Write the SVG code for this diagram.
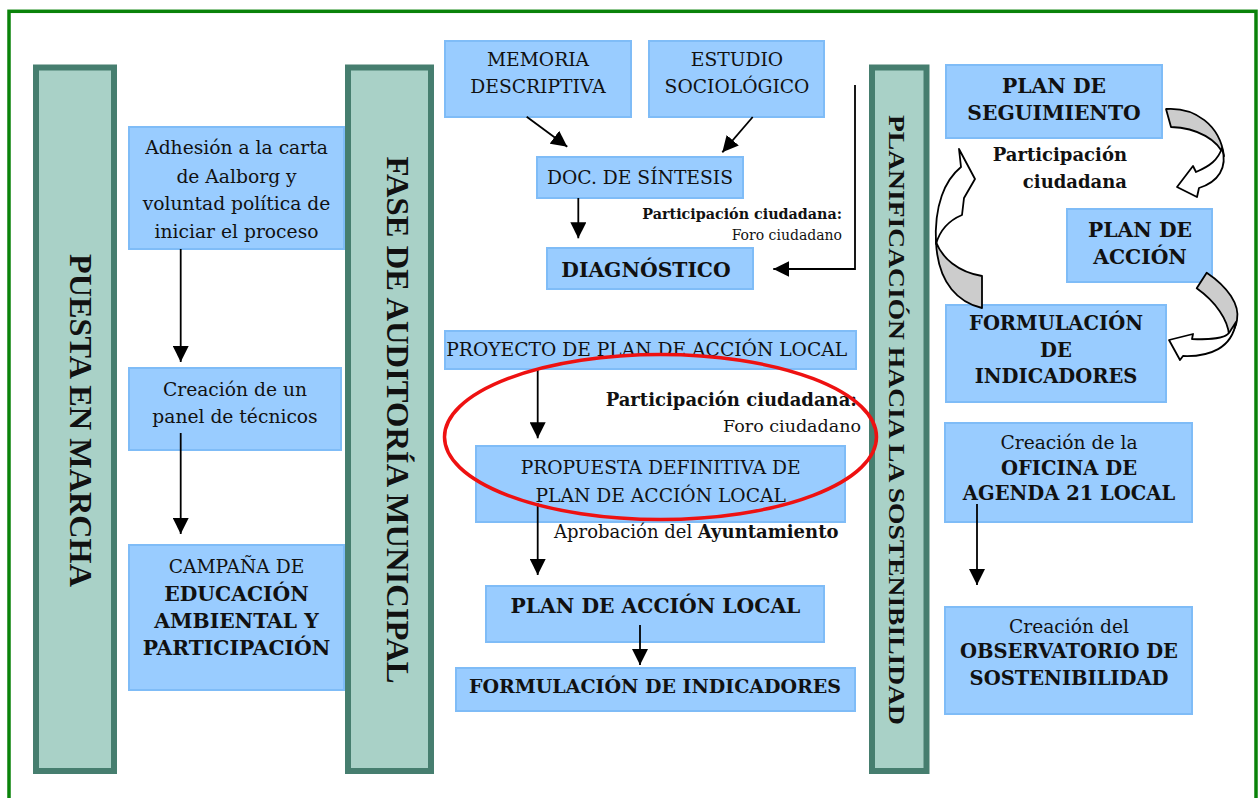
<svg xmlns="http://www.w3.org/2000/svg" width="1258" height="798" viewBox="0 0 1258 798">
<defs>
<style>
.box{fill:#99ccff;stroke:#7fbcf7;stroke-width:2}
.col{fill:#a9d1c7;stroke:#467e6f;stroke-width:6}
.t{font-family:"DejaVu Serif","Liberation Serif",serif;font-size:18.7px;fill:#111;text-anchor:middle}
.b{font-weight:bold;font-size:20.3px}
.ttl{font-family:"Liberation Serif","Times New Roman",serif;font-weight:bold;font-size:32px;fill:#111;text-anchor:middle}
.ln{fill:none;stroke:#000;stroke-width:1.8;marker-end:url(#ah)}
.back{fill:#cccccc;stroke:#000;stroke-width:1.8;stroke-linejoin:round}
.front{fill:#ffffff;stroke:#000;stroke-width:1.8;stroke-linejoin:round}
</style>
<marker id="ah" viewBox="0 0 16 16" refX="16" refY="8" markerWidth="16" markerHeight="16" markerUnits="userSpaceOnUse" orient="auto">
<path d="M0,0 L16,8 L0,16 Z" fill="#000"/>
</marker>
</defs>
<rect width="1258" height="798" fill="#fff"/>
<rect x="9" y="11.3" width="1247" height="800" fill="none" stroke="#0a830a" stroke-width="3.5"/>

<g id="phase-puesta">
<rect class="col" x="36" y="67.5" width="78" height="703.5"/>
<text class="ttl" transform="translate(70,420.5) rotate(90)" textLength="333" lengthAdjust="spacingAndGlyphs">PUESTA EN MARCHA</text>
</g>
<g id="phase-auditoria">
<rect class="col" x="348" y="67.5" width="83" height="703.5"/>
<text class="ttl" transform="translate(386.7,420) rotate(90)" textLength="527" lengthAdjust="spacingAndGlyphs">FASE DE AUDITORÍA MUNICIPAL</text>
</g>
<g id="phase-planificacion">
<rect class="col" x="872" y="67.5" width="54.5" height="703.5"/>
<text class="ttl" style="font-size:23px" transform="translate(888.5,420) rotate(90)" textLength="610" lengthAdjust="spacingAndGlyphs">PLANIFICACIÓN HACIA LA SOSTENIBILIDAD</text>
</g>

<g id="adhesion">
<rect class="box" x="129" y="127" width="215" height="122"/>
<text class="t" x="236.5" y="154">Adhesión a la carta</text>
<text class="t" x="236.5" y="182.5">de Aalborg y</text>
<text class="t" x="236.5" y="210">voluntad política de</text>
<text class="t" x="236.5" y="237.5">iniciar el proceso</text>
</g>
<g id="panel">
<rect class="box" x="129" y="368" width="212" height="82"/>
<text class="t" x="235" y="396">Creación de un</text>
<text class="t" x="235" y="423">panel de técnicos</text>
</g>
<g id="campana">
<rect class="box" x="129" y="545" width="215" height="145"/>
<text class="t" x="236.5" y="572.7">CAMPAÑA DE</text>
<text class="t b" x="236.5" y="600.7">EDUCACIÓN</text>
<text class="t b" x="236.5" y="627.7">AMBIENTAL Y</text>
<text class="t b" x="236.5" y="655">PARTICIPACIÓN</text>
</g>

<g id="memoria">
<rect class="box" x="445" y="41" width="186" height="76"/>
<text class="t" x="538" y="66">MEMORIA</text>
<text class="t" x="538" y="93.3">DESCRIPTIVA</text>
</g>
<g id="estudio">
<rect class="box" x="649" y="41" width="175" height="76"/>
<text class="t" x="737" y="66">ESTUDIO</text>
<text class="t" x="737" y="93.3">SOCIOLÓGICO</text>
</g>
<g id="sintesis">
<rect class="box" x="537" y="157" width="206" height="41"/>
<text class="t" x="640" y="184">DOC. DE SÍNTESIS</text>
</g>
<g id="participacion-1">
<text class="t" style="text-anchor:end;font-weight:bold;font-size:14.3px" x="842" y="218.5">Participación ciudadana:</text>
<text class="t" style="text-anchor:end;font-size:14px" x="842" y="240">Foro ciudadano</text>
</g>
<g id="diagnostico">
<rect class="box" x="547" y="248" width="206" height="41"/>
<text class="t b" x="646" y="276.7">DIAGNÓSTICO</text>
</g>
<g id="proyecto">
<rect class="box" x="445" y="331" width="411" height="38"/>
<text class="t" x="646.7" y="356">PROYECTO DE PLAN DE ACCIÓN LOCAL</text>
</g>
<g id="participacion-2">
<text class="t" style="text-anchor:end;font-weight:bold;font-size:18px" x="857" y="406">Participación ciudadana:</text>
<text class="t" style="text-anchor:end;font-size:17.5px" x="861" y="431.7">Foro ciudadano</text>
</g>
<g id="propuesta">
<rect class="box" x="476" y="446" width="369" height="76"/>
<text class="t" x="660.7" y="474">PROPUESTA DEFINITIVA DE</text>
<text class="t" x="660.7" y="501.7">PLAN DE ACCIÓN LOCAL</text>
</g>
<g id="aprobacion">
<text class="t" style="text-anchor:start;font-size:18px" x="554" y="538.3">Aprobación del <tspan font-weight="bold">Ayuntamiento</tspan></text>
</g>
<g id="plan-accion-local">
<rect class="box" x="486" y="586" width="338" height="56"/>
<text class="t b" x="655.5" y="613.3">PLAN DE ACCIÓN LOCAL</text>
</g>
<g id="formulacion-indicadores">
<rect class="box" x="456" y="668" width="399" height="43"/>
<text class="t b" style="font-size:19px" x="655" y="693.3">FORMULACIÓN DE INDICADORES</text>
</g>

<g id="plan-seguimiento">
<rect class="box" x="946" y="65" width="216" height="73"/>
<text class="t b" x="1054" y="92.7">PLAN DE</text>
<text class="t b" x="1054" y="120">SEGUIMIENTO</text>
</g>
<g id="participacion-3">
<text class="t" style="text-anchor:end;font-weight:bold;font-size:18px" x="1127" y="161">Participación</text>
<text class="t" style="text-anchor:end;font-weight:bold;font-size:18px" x="1127" y="187.7">ciudadana</text>
</g>
<g id="plan-accion">
<rect class="box" x="1067" y="209" width="145" height="73"/>
<text class="t b" x="1140" y="236.7">PLAN DE</text>
<text class="t b" x="1140" y="264.3">ACCIÓN</text>
</g>
<g id="formulacion-2">
<rect class="box" x="946" y="305" width="220" height="97"/>
<text class="t b" style="font-size:19.5px" x="1056" y="330">FORMULACIÓN</text>
<text class="t b" style="font-size:19.5px" x="1056" y="356.7">DE</text>
<text class="t b" style="font-size:19.5px" x="1056" y="383.3">INDICADORES</text>
</g>
<g id="oficina">
<rect class="box" x="945" y="423" width="247" height="99"/>
<text class="t" x="1069" y="449.3">Creación de la</text>
<text class="t b" style="font-size:19.5px" x="1069" y="475">OFICINA DE</text>
<text class="t b" style="font-size:19.5px" x="1069" y="500">AGENDA 21 LOCAL</text>
</g>
<g id="observatorio">
<rect class="box" x="945" y="607" width="247" height="107"/>
<text class="t" x="1069" y="632.7">Creación del</text>
<text class="t b" style="font-size:19.5px" x="1069" y="658.3">OBSERVATORIO DE</text>
<text class="t b" style="font-size:19.5px" x="1069" y="685">SOSTENIBILIDAD</text>
</g>

<g id="connectors">
<path class="ln" d="M180.7,249 L180.7,362"/>
<path class="ln" d="M180.7,433 L180.7,534"/>
<path class="ln" d="M526.7,116.7 L567.3,146.7"/>
<path class="ln" d="M752.7,117 L722.3,152.3"/>
<path class="ln" d="M578.3,198 L578.3,238.3"/>
<path class="ln" d="M855,85 L855,269 L773.3,269"/>
<path class="ln" d="M537.7,369 L537.7,438.3"/>
<path class="ln" d="M537.7,503 L537.7,575"/>
<path class="ln" d="M640,625 L640,665"/>
<path class="ln" d="M977,504 L977,585"/>
<path class="back" d="M1166,109 C1195,107 1220,125 1224,156 C1218,140 1198,128 1171,127 Z"/>
<path class="front" d="M1222,148 C1228,168 1218,182 1199,188 L1197,197 L1177,187 L1193,166 L1196,172 C1210,166 1218,160 1222,148 Z"/>
<path class="back" d="M1206.7,272.7 C1228,287 1240,305 1237,320 C1236,327 1233,332 1229,335 C1228,320 1216,302 1196.7,288.3 Z"/>
<path class="front" d="M1229,333 C1225,338 1210,340 1192,339 L1193,334 L1169,340 L1180,360 L1183,356 C1210,357 1232,348 1236,322 Z"/>
<path class="back" d="M982,308 C960,303 938,285 936,242 C942,258 958,272 982,276 Z"/>
<path class="front" d="M936,244 C934,205 945,180 961,167 L959,149 L975,179 L964,198 L962,215 C950,220 940,230 936,244 Z"/>
</g>

<ellipse cx="660.5" cy="437" rx="216" ry="82.5" fill="none" stroke="#ee1111" stroke-width="3.5"/>
</svg>
